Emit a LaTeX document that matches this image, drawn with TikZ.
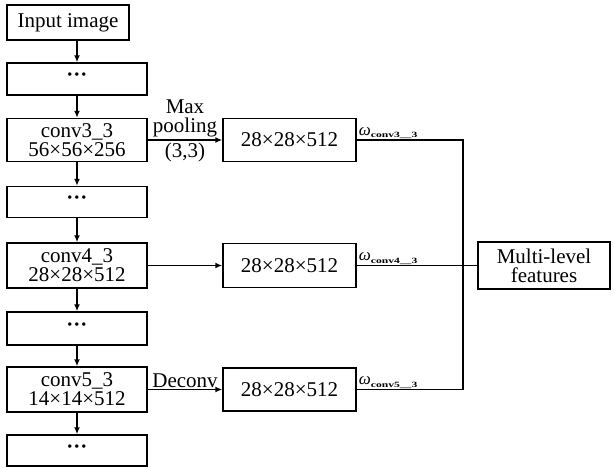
\documentclass[tikz,border=0pt]{standalone}
\usepackage{fontspec}
\setmainfont{Liberation Serif}
\usepackage{graphicx}
\usetikzlibrary{arrows.meta}
\newcommand{\omg}[1]{\textit{ω}\raisebox{-2.5pt}{\scalebox{1.45}[1]{\fontsize{8}{8}\selectfont\bfseries #1}}}
\newcommand{\dts}{\raisebox{3pt}{\bfseries ···}}
\begin{document}
\begin{tikzpicture}[x=1pt,y=-1pt,
  box/.style={draw,line width=1.4pt,inner sep=0pt,align=center,
    font=\fontsize{21}{19}\selectfont},
  lbl/.style={inner sep=2pt,align=center,font=\fontsize{21}{19}\selectfont},
  wlbl/.style={inner sep=1pt,anchor=south west,font=\fontsize{17}{17}\selectfont},
  arr/.style={line width=1.4pt,-{Latex[length=7pt,width=6pt]}},
  ln/.style={line width=1.4pt}]
\useasboundingbox (0,0) rectangle (614,468);
% left column
\node[box,minimum width=122pt,minimum height=35pt] (inp) at (68,22.5) {Input image};
\node[box,minimum width=140pt,minimum height=32pt] (d1) at (77,79) {\dts};
\node[box,minimum width=140pt,minimum height=43pt] (c3) at (77,140) {conv3\_3\\56×56×256};
\node[box,minimum width=140pt,minimum height=31pt] (d2) at (77,202) {\dts};
\node[box,minimum width=140pt,minimum height=45pt] (c4) at (77,265.5) {conv4\_3\\28×28×512};
\node[box,minimum width=140pt,minimum height=33pt] (d3) at (77,328.5) {\dts};
\node[box,minimum width=140pt,minimum height=45pt] (c5) at (77,389.5) {conv5\_3\\14×14×512};
\node[box,minimum width=140pt,minimum height=31pt] (d4) at (77,450.5) {\dts};
% middle column
\node[box,minimum width=133pt,minimum height=43pt] (m1) at (289.5,140) {28×28×512};
\node[box,minimum width=133pt,minimum height=44pt] (m2) at (289.5,265.5) {28×28×512};
\node[box,minimum width=133pt,minimum height=43pt] (m3) at (289.5,389.5) {28×28×512};
% right
\node[box,minimum width=132pt,minimum height=47pt] (mf) at (544,265.5) {Multi-level\\features};
\coordinate (j1) at (463,140);
\coordinate (j3) at (463,389.5);
% vertical arrows
\draw[arr] (inp.south -| d1.north) -- (d1.north);
\draw[arr] (d1) -- (c3);
\draw[arr] (c3) -- (d2);
\draw[arr] (d2) -- (c4);
\draw[arr] (c4) -- (d3);
\draw[arr] (d3) -- (c5);
\draw[arr] (c5) -- (d4);
% horizontal arrows
\draw[arr] (c3.east) -- node[lbl,above] {Max\\pooling} node[lbl,below] {(3,3)} (m1.west);
\draw[arr] (c4.east) -- (m2.west);
\draw[arr] (c5.east) -- node[lbl,above,inner sep=1pt] {Deconv} (m3.west);
% merge lines
\draw[ln] (m1.east) -- (j1) -- (j3) -- (m3.east);
\draw[ln] (m2.east) -- (mf.west);
\node[wlbl] (w1) at ([xshift=1pt]m1.east) {\omg{conv3\_\_3}};
\node[wlbl] (w2) at ([xshift=1pt]m2.east) {\omg{conv4\_\_3}};
\node[wlbl] (w3) at ([xshift=1pt]m3.east) {\omg{conv5\_\_3}};
\end{tikzpicture}
\end{document}
